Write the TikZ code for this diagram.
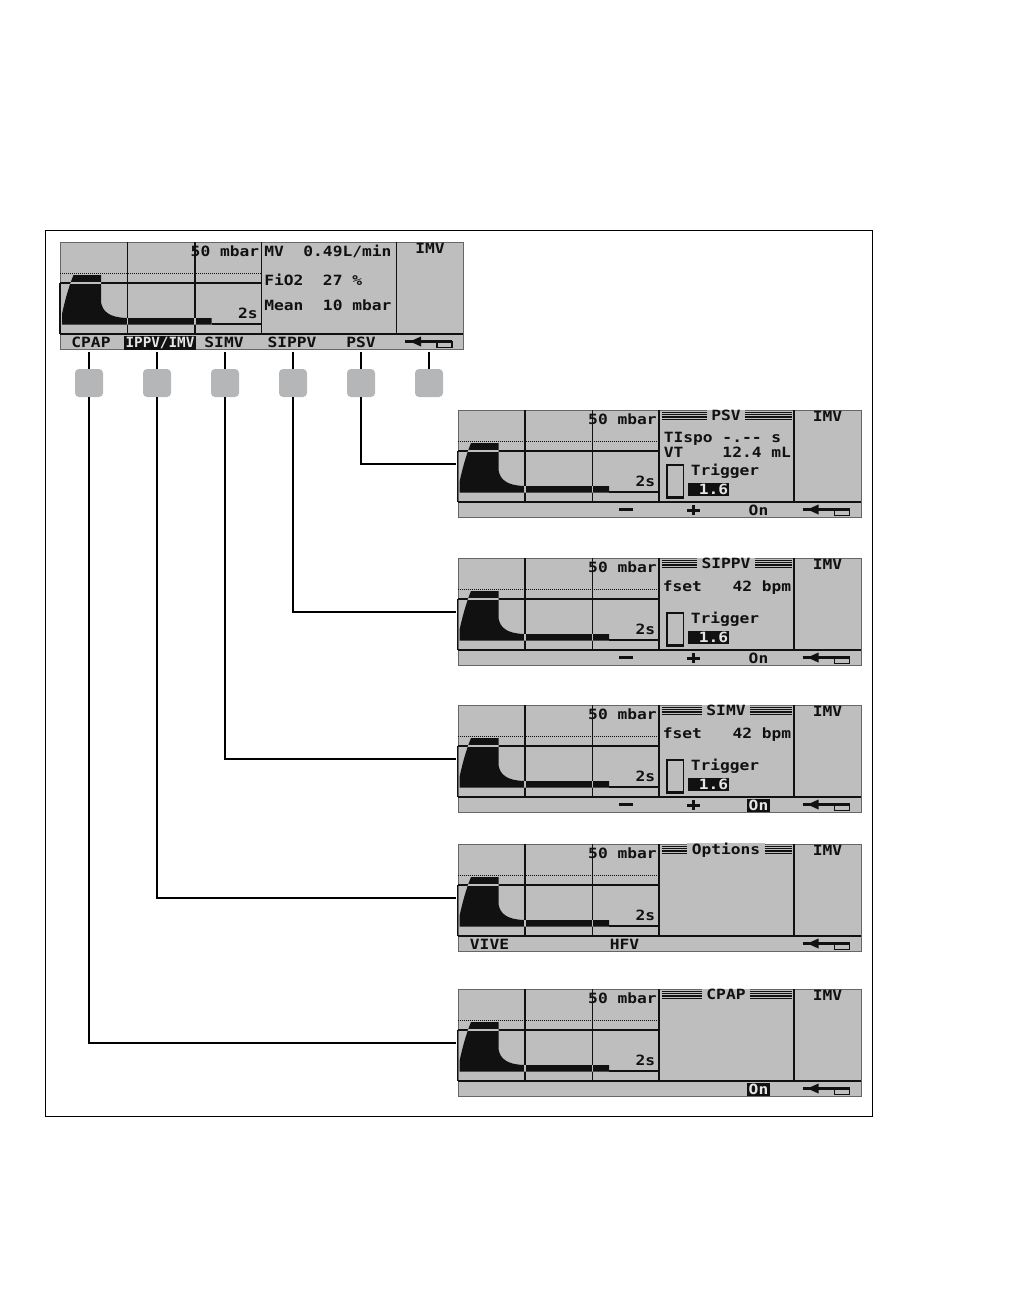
\documentclass[tikz,border=0pt]{standalone}
\usepackage{fontspec}
\newfontfamily\lcdfont[FakeStretch=1.15]{DejaVu Sans Mono Bold}
\definecolor{lcd}{HTML}{BEBEBE}
\definecolor{btncol}{HTML}{B5B6B8}
\definecolor{lcdink}{HTML}{111111}
\tikzset{
  conn/.style={line width=1.5pt, draw=black},
  lcdline/.style={line width=1.15pt, draw=lcdink},
  screenbox/.style={draw=black!60, line width=0.6pt, fill=lcd, inner sep=0pt, minimum width=302.25pt, minimum height=80.25pt, anchor=north west},
  lcdtxt/.style={inner sep=0pt, text=lcdink, font=\lcdfont\fontsize{10.6pt}{12pt}\selectfont},
  invtxt/.style={lcdtxt, fill=lcdink, text=lcd!40!white, inner xsep=1.2pt, inner ysep=1.1pt},
  hdrtxt/.style={lcdtxt, fill=lcd, inner xsep=3.5pt},
  btn/.style={fill=btncol, rounded corners=3pt, minimum width=21pt, minimum height=21pt, inner sep=0pt},
}
\newcommand\lcdscreen[4]{%
\begin{scope}[shift={(#2,#3)}]
 \node[screenbox] (#1) at (0,0) {};
 \fill[lcdink] (2,82.5) -- (2,72) .. controls (5,58) and (9,44) .. (13.5,33) -- (41,33) -- (41,60) .. controls (42.5,70) and (50,75.5) .. (66.7,76) -- (151.7,76) -- (151.7,82.5) -- cycle;
 \draw[lcdink, line width=1.2pt] (151.7,81.7) -- (201.7,81.7);
 \draw[lcdink, line width=1.1pt, dash pattern=on 0.75pt off 0.75pt] (0,31.7) -- (201.7,31.7);
 \draw[lcdline] (67.7,0) -- (67.7,92) (135,0) -- (135,92) (0,41) -- (201.7,41);
 \begin{scope}
  \clip (2,82.5) -- (2,72) .. controls (5,58) and (9,44) .. (13.5,33) -- (41,33) -- (41,60) .. controls (42.5,70) and (50,75.5) .. (66.7,76) -- (151.7,76) -- (151.7,82.5) -- cycle;
  \draw[line width=1.15pt, draw=lcd] (67.7,0) -- (67.7,92) (135,0) -- (135,92) (0,41) -- (201.7,41);
 \end{scope}
 \draw[lcdline] (0,41) -- (0,92) (201.7,0) -- (201.7,92) (336.7,0) -- (336.7,92);
 \draw[lcdink, line width=1.6pt] (0,92) -- (403,92);
 \node[lcdtxt, anchor=base east] at (199.5,14.5) {50 mbar};
 \node[lcdtxt, anchor=base east] at (198,76) {2s};
 \node[lcdtxt, anchor=base] at (370,11.5) {IMV};
 \fill[lcdink] (350,99.5) -- (361,94.5) -- (361,104.5) -- cycle;
 \draw[lcdink, line width=1.8pt] (345,99.5) -- (392,99.5);
 \draw[lcdink, line width=1.2pt] (377,99.5) rectangle (392,105.5);
 #4
\end{scope}}
\newcommand\lcdheader[1]{%
 \foreach \yy in {2.2,4.6,7.0,9.4} {\draw[lcdink, line width=0.85pt] (204,\yy) -- (334.5,\yy);}
 \node[hdrtxt, anchor=base] at (268.5,10.5) {#1};}
\newcommand\lcdtrigger{%
 \draw[lcdink, line width=1.4pt] (209.5,55) rectangle (226,88.5);
 \fill[lcdink] (209.5,86) rectangle (226,89);
 \node[lcdtxt, anchor=base west] at (233,65) {Trigger};
 \fill[lcdink] (230,72.5) rectangle (271.7,85.7);
 \node[lcdtxt, anchor=base east, text=lcd!40!white] at (271,84.3) {1.6};}
\newcommand\lcdminusplus{%
 \fill[lcdink] (161.7,98.3) rectangle (175,101.4);
 \fill[lcdink] (229.5,98.5) rectangle (242.5,101.6);
 \fill[lcdink] (234.5,95) rectangle (237.6,105);}
\begin{document}
\begin{tikzpicture}[x=0.75pt,y=-0.75pt]
\useasboundingbox (0,0) rectangle (1008,1296);
\draw[line width=0.75pt] (45,230) rectangle (872,1116);

% main screen
\lcdscreen{main}{60}{242}{%
 \node[lcdtxt, anchor=base west] at (204,14.3) {MV\ \ 0.49L/min};
 \node[lcdtxt, anchor=base west] at (204,43.7) {FiO2\ \ 27 \%};
 \node[lcdtxt, anchor=base west] at (204,68.7) {Mean\ \ 10 mbar};
 \node[lcdtxt, anchor=base] (kCPAP) at (31,105.5) {CPAP};
 \node[invtxt, anchor=base] (kIPPV) at (100,105.5) {\scalebox{0.88}[1]{IPPV/IMV}};
 \node[lcdtxt, anchor=base] (kSIMV) at (164,105.5) {SIMV};
 \node[lcdtxt, anchor=base] (kSIPPV) at (232,105.5) {SIPPV};
 \node[lcdtxt, anchor=base] (kPSV) at (301,105.5) {PSV};
}

% PSV screen
\lcdscreen{sPSV}{457.5}{410}{%
 \lcdheader{PSV}
 \node[lcdtxt, anchor=base west] at (206,32.7) {TIspo -.-- s};
 \node[lcdtxt, anchor=base west] at (206,47.7) {VT\ \ \ \ 12.4 mL};
 \lcdtrigger
 \lcdminusplus
 \node[lcdtxt, anchor=base] at (301,105.5) {On};
}

% SIPPV screen
\lcdscreen{sSIPPV}{457.5}{558}{%
 \lcdheader{SIPPV}
 \node[lcdtxt, anchor=base west] at (205,33.3) {fset};
 \node[lcdtxt, anchor=base east] at (334,33.3) {42 bpm};
 \lcdtrigger
 \lcdminusplus
 \node[lcdtxt, anchor=base] at (301,105.5) {On};
}

% SIMV screen
\lcdscreen{sSIMV}{457.5}{705}{%
 \lcdheader{SIMV}
 \node[lcdtxt, anchor=base west] at (205,33.3) {fset};
 \node[lcdtxt, anchor=base east] at (334,33.3) {42 bpm};
 \lcdtrigger
 \lcdminusplus
 \node[invtxt, anchor=base] at (301,105.5) {On};
}

% Options screen
\lcdscreen{sOpt}{457.5}{844}{%
 \lcdheader{Options}
 \node[lcdtxt, anchor=base] at (32,105.5) {VIVE};
 \node[lcdtxt, anchor=base] at (167,105.5) {HFV};
}

% CPAP screen
\lcdscreen{sCPAP}{457.5}{989}{%
 \lcdheader{CPAP}
 \node[invtxt, anchor=base] at (301,105.5) {On};
}

% buttons
\node[btn] (bCPAP) at (89,383) {};
\node[btn] (bIPPV) at (157,383) {};
\node[btn] (bSIMV) at (225,383) {};
\node[btn] (bSIPPV) at (293,383) {};
\node[btn] (bPSV) at (361,383) {};
\node[btn] (bBack) at (429,383) {};

% short links from softkey row to buttons
\foreach \b in {bCPAP,bIPPV,bSIMV,bSIPPV,bPSV,bBack}
  {\draw[conn, shorten <=1.5pt] (main.south -| \b) -- (\b.north);}

% connectors to screens
\draw[conn, shorten >=1.2pt] (bPSV.south) |- (sPSV.west);
\draw[conn, shorten >=1.2pt] (bSIPPV.south) |- (sSIPPV.west);
\draw[conn, shorten >=1.2pt] (bSIMV.south) |- (sSIMV.west);
\draw[conn, shorten >=1.2pt] (bIPPV.south) |- (sOpt.west);
\draw[conn, shorten >=1.2pt] (bCPAP.south) |- (sCPAP.west);
\end{tikzpicture}
\end{document}
